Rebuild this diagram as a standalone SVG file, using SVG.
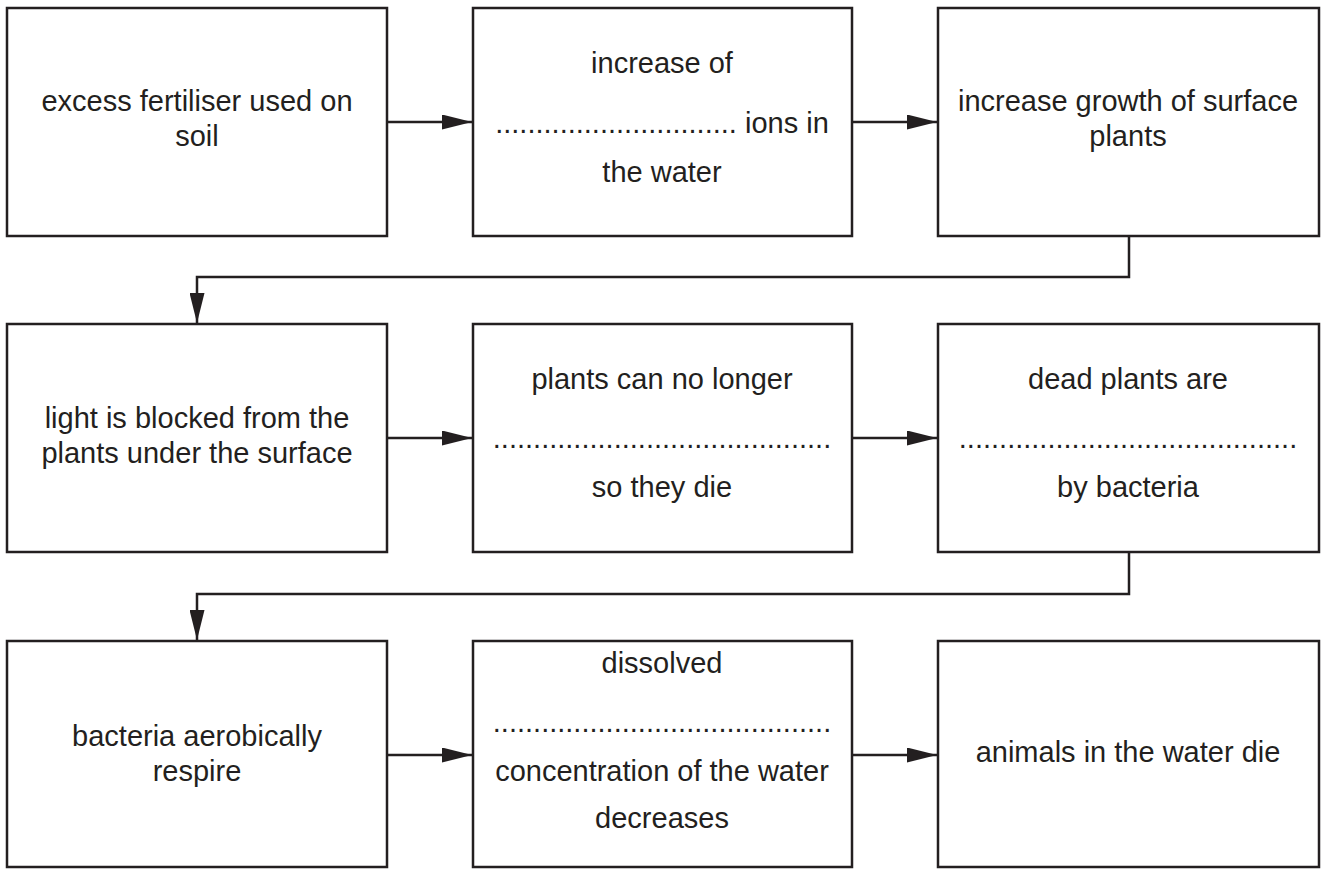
<svg xmlns="http://www.w3.org/2000/svg" width="1322" height="869" viewBox="0 0 1322 869">
<style>
.box{fill:#fff;stroke:#231f20;stroke-width:2.5}
.t{font-family:"Liberation Sans",Arial,sans-serif;font-size:29px;fill:#231f20;text-anchor:middle}
.c{fill:none;stroke:#231f20;stroke-width:2.5}
</style>
<defs>
<marker id="ah" markerWidth="12" markerHeight="6" refX="12" refY="3" orient="auto" markerUnits="strokeWidth">
<path d="M0,0 L12,3 L0,6 Z" fill="#231f20"/>
</marker>
</defs>
<rect width="1322" height="869" fill="#fff"/>
<g id="n1"><rect class="box" x="7" y="8" width="380" height="228"/>
<text class="t" x="197" y="111">excess fertiliser used on</text>
<text class="t" x="197" y="146">soil</text></g>
<g id="n2"><rect class="box" x="473" y="8" width="379" height="228"/>
<text class="t" x="662" y="73">increase of</text>
<text class="t" x="662" y="133">.............................. ions in</text>
<text class="t" x="662" y="182">the water</text></g>
<g id="n3"><rect class="box" x="938" y="8" width="381" height="228"/>
<text class="t" x="1128" y="111">increase growth of surface</text>
<text class="t" x="1128" y="146">plants</text></g>
<g id="n4"><rect class="box" x="7" y="324" width="380" height="228"/>
<text class="t" x="197" y="428">light is blocked from the</text>
<text class="t" x="197" y="463">plants under the surface</text></g>
<g id="n5"><rect class="box" x="473" y="324" width="379" height="228"/>
<text class="t" x="662" y="389">plants can no longer</text>
<text class="t" x="662" y="448">..........................................</text>
<text class="t" x="662" y="497">so they die</text></g>
<g id="n6"><rect class="box" x="938" y="324" width="381" height="228"/>
<text class="t" x="1128" y="389">dead plants are</text>
<text class="t" x="1128" y="448">..........................................</text>
<text class="t" x="1128" y="497">by bacteria</text></g>
<g id="n7"><rect class="box" x="7" y="641" width="380" height="226"/>
<text class="t" x="197" y="746">bacteria aerobically</text>
<text class="t" x="197" y="781">respire</text></g>
<g id="n8"><rect class="box" x="473" y="641" width="379" height="226"/>
<text class="t" x="662" y="673">dissolved</text>
<text class="t" x="662" y="732">..........................................</text>
<text class="t" x="662" y="781">concentration of the water</text>
<text class="t" x="662" y="828">decreases</text></g>
<g id="n9"><rect class="box" x="938" y="641" width="381" height="226"/>
<text class="t" x="1128" y="762">animals in the water die</text></g>
<g id="connectors">
<path class="c" d="M387,122 H472" marker-end="url(#ah)"/>
<path class="c" d="M852,122 H937" marker-end="url(#ah)"/>
<path class="c" d="M1129,236 V277 H197 V323" marker-end="url(#ah)"/>
<path class="c" d="M387,438 H472" marker-end="url(#ah)"/>
<path class="c" d="M852,438 H937" marker-end="url(#ah)"/>
<path class="c" d="M1129,552 V594 H197 V640" marker-end="url(#ah)"/>
<path class="c" d="M387,755 H472" marker-end="url(#ah)"/>
<path class="c" d="M852,755 H937" marker-end="url(#ah)"/>
</g>
</svg>
